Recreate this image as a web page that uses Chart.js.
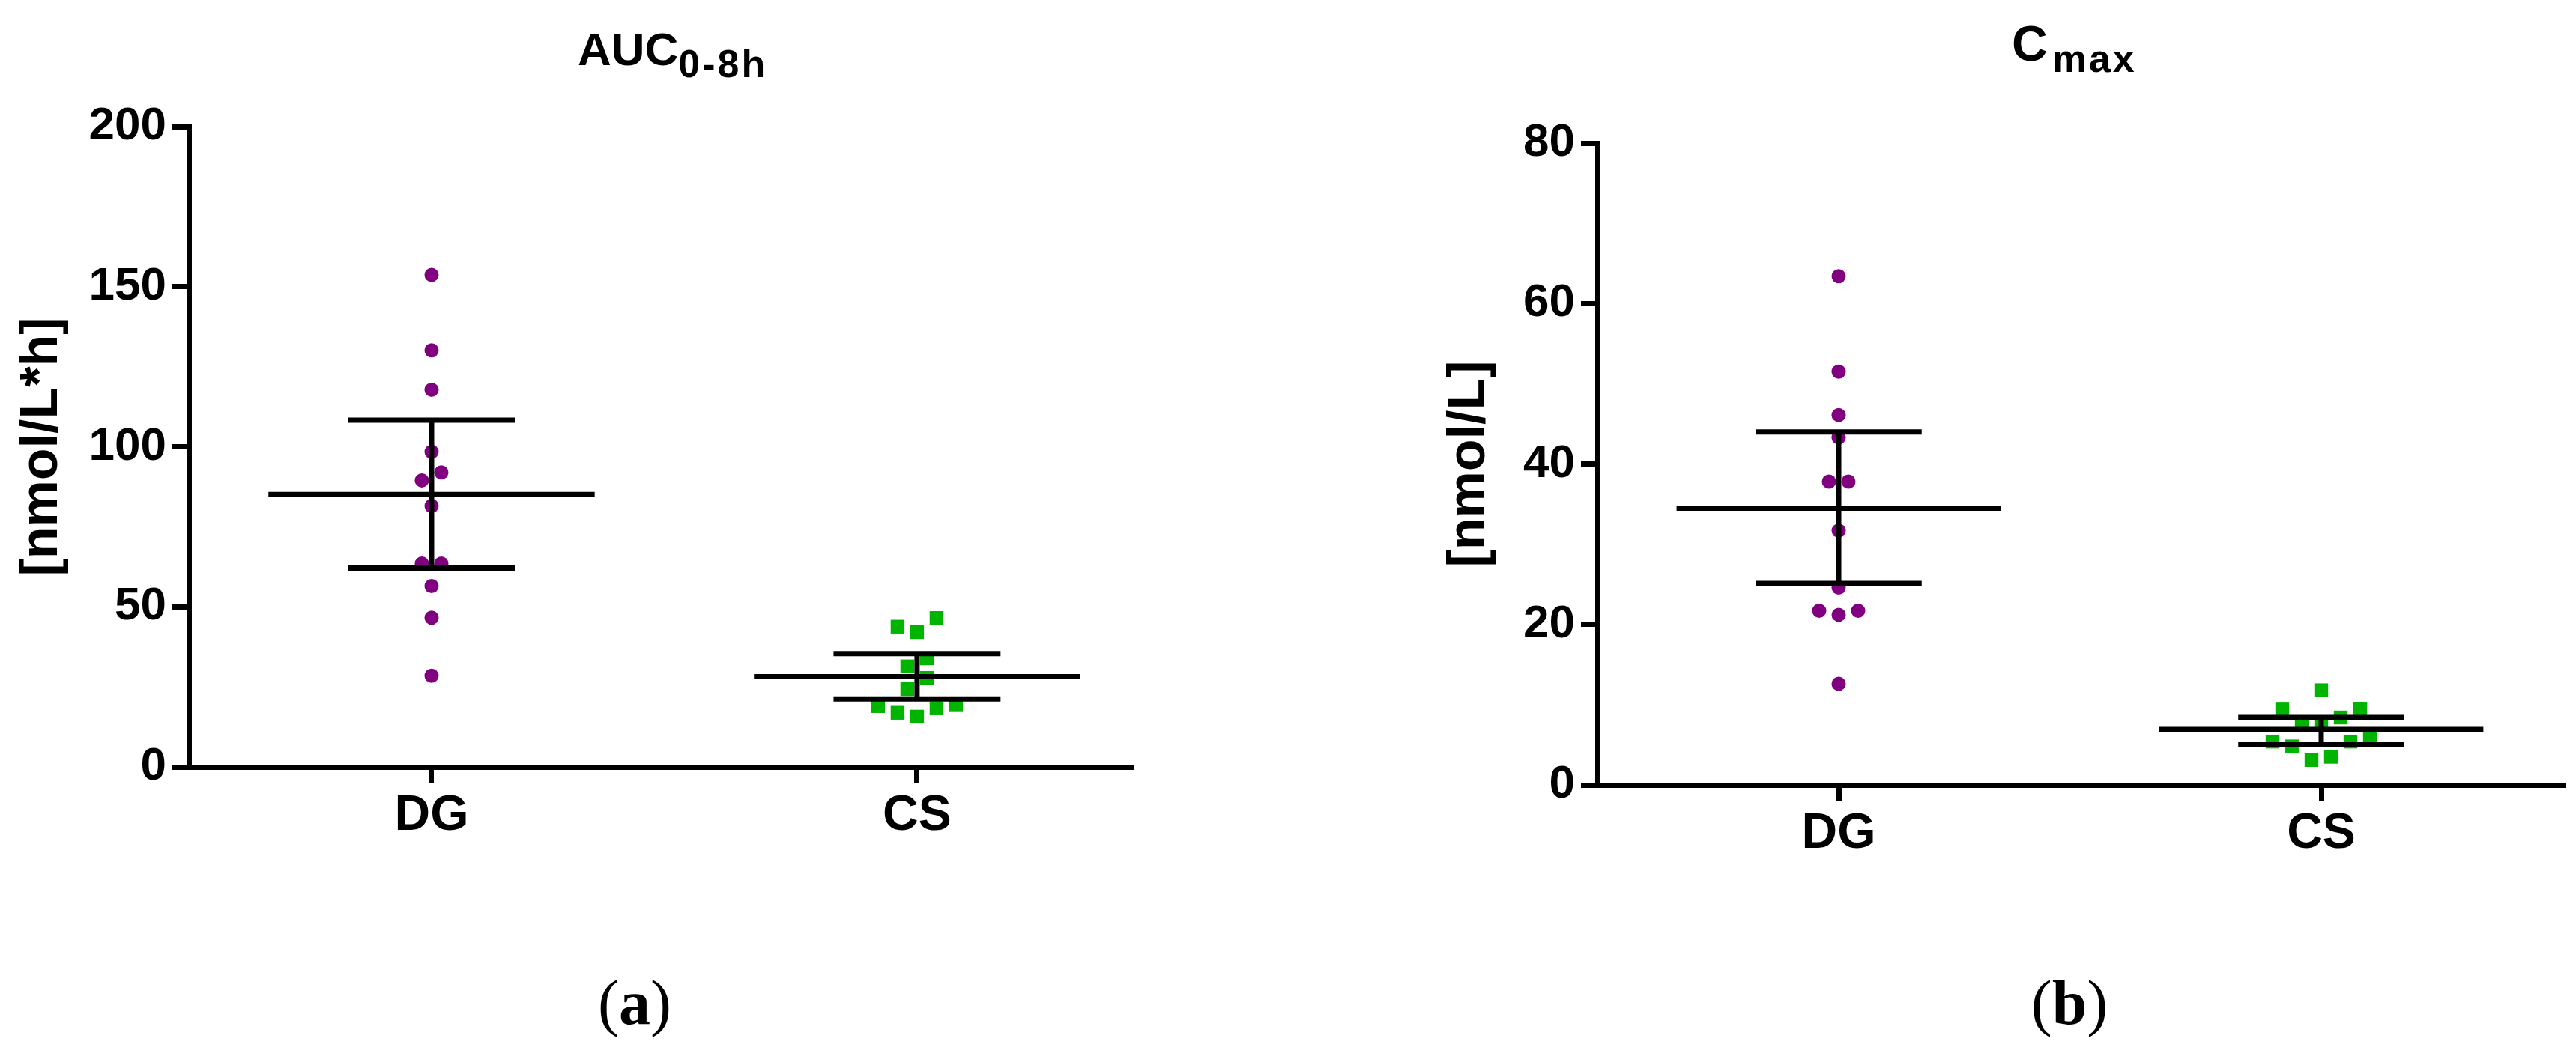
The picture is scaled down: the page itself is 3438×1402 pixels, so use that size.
<!DOCTYPE html>
<html>
<head>
<meta charset="utf-8">
<script src="https://cdn.jsdelivr.net/npm/chart.js@4/dist/chart.umd.min.js"></script>
<style>
  body { margin: 0; background: #fff; width: 3438px; height: 1402px; position: relative; overflow: hidden; }
  canvas { position: absolute; top: 0; }
  .title { position: absolute; font-family: 'Liberation Sans', Arial, sans-serif; font-weight: bold; font-size: 62px; line-height: 1; white-space: nowrap; color: #000; }
  .title sub { font-size: 52px; letter-spacing: 3px; vertical-align: -16px; line-height: 1; }
  .cap { position: absolute; width: 300px; text-align: center; font-family: 'Liberation Serif', 'Times New Roman', serif; font-size: 84px; line-height: 1; color: #000; }
</style>
</head>
<body>
<canvas id="auc" width="1600" height="1200" style="left:0"></canvas>
<canvas id="cmax" width="1718" height="1200" style="left:1720px"></canvas>

<div class="title" style="left:771px;top:35px">AUC<sub>0-8h</sub></div>
<div class="title" style="left:2685px;top:25px;font-size:66px">C<sub style="margin-left:6px;letter-spacing:3px;vertical-align:-15px">max</sub></div>
<div class="cap" style="left:697px;top:1297px">(<b>a</b>)</div>
<div class="cap" style="left:2612px;top:1297px">(<b>b</b>)</div>

<script>
// groups
const categories = ['DG', 'CS'];

// AUC 0-8h [nmol/L*h], one value per subject
const aucDG = [153.7, 130.1, 117.8, 98.4, 92.0, 89.5, 81.5, 63.5, 63.5, 56.5, 46.6, 28.5];
const aucCS = [46.5, 43.8, 42.1, 33.9, 31.4, 27.8, 24.3, 19.3, 19.0, 18.3, 16.9, 15.7];
const aucMean = [85.1, 28.2];
const aucLow = [62.1, 21.2];
const aucHigh = [108.3, 35.4];
const aucTicks = [0, 50, 100, 150, 200];

// Cmax [nmol/L]
const cmaxDG = [63.4, 51.5, 46.1, 43.3, 37.8, 37.8, 31.7, 24.6, 21.7, 21.7, 21.2, 12.6];
const cmaxCS = [11.8, 9.5, 9.4, 8.4, 7.5, 7.5, 5.8, 5.4, 5.4, 4.8, 3.5, 3.1];
const cmaxMean = [34.5, 6.9];
const cmaxLow = [25.1, 5.0];
const cmaxHigh = [44.0, 8.4];
const cmaxTicks = [0, 20, 40, 60, 80];

const FONT = "'Liberation Sans', Arial, sans-serif";
const PURPLE = '#800080';
const GREEN = '#00b400';
const MEAN_HALF = 0.336;   // half width of mean line, in category units
const CAP_HALF = 0.172;    // half width of error caps
const STEP = 26;           // px between dots placed side by side
const ROW_GAP = 29.5;      // dots closer than this (px) share a row

Chart.defaults.font.family = FONT;
Chart.defaults.color = '#000';

// spread dots of similar value side by side, like a scatter dot plot
function placeRow(row) {
  const byValue = row.slice().sort((a, b) => a.y - b.y);
  const n = byValue.length;
  byValue.forEach((p, k) => {
    const slot = (n - 1) / 2 - Math.floor(k / 2);
    p.x += (k % 2 === 0 ? slot : -slot) * STEP;
  });
}

const swarm = {
  id: 'swarm',
  afterDatasetUpdate(chart, args) {
    const ds = chart.data.datasets[args.index];
    if (!ds.swarm) return;
    const pts = args.meta.data.slice().sort((a, b) => b.y - a.y);
    let row = [];
    pts.forEach(p => {
      if (row.length && row[0].y - p.y >= ROW_GAP) {
        placeRow(row);
        row = [];
      }
      row.push(p);
    });
    if (row.length) placeRow(row);
  }
};

function seg(x1, y1, x2, y2) {
  return {
    type: 'line',
    data: [{x: x1, y: y1}, {x: x2, y: y2}],
    borderColor: '#000',
    borderWidth: 7,
    pointRadius: 0,
    order: 0
  };
}

function errorBars(mean, low, high) {
  const sets = [];
  mean.forEach((m, i) => {
    const c = i + 1;
    sets.push(seg(c - MEAN_HALF, m, c + MEAN_HALF, m));
    sets.push(seg(c - CAP_HALF, high[i], c + CAP_HALF, high[i]));
    sets.push(seg(c - CAP_HALF, low[i], c + CAP_HALF, low[i]));
    sets.push(seg(c, low[i], c, high[i]));
  });
  return sets;
}

function dots(values, cat, color, style, radius) {
  return {
    type: 'scatter',
    swarm: true,
    data: values.map(v => ({x: cat, y: v})),
    backgroundColor: color,
    borderWidth: 0,
    pointStyle: style,
    pointRadius: radius,
    order: 1
  };
}

function makeChart(id, p) {
  return new Chart(document.getElementById(id), {
    type: 'scatter',
    data: {
      datasets: [
        dots(p.dg, 1, PURPLE, 'circle', 9.5),
        dots(p.cs, 2, GREEN, 'rect', 13)
      ].concat(errorBars(p.mean, p.low, p.high))
    },
    plugins: [swarm],
    options: {
      responsive: false,
      animation: false,
      events: [],
      layout: { padding: { left: 0, top: p.top, right: p.right, bottom: 0 } },
      plugins: { legend: { display: false }, tooltip: { enabled: false } },
      scales: {
        x: {
          type: 'linear',
          min: 0.5,
          max: p.xMax,
          afterBuildTicks: s => { s.ticks = categories.map((c, i) => ({value: i + 1})); },
          afterFit: s => { s.height = p.xHeight; },
          ticks: {
            callback: v => categories[v - 1],
            font: { size: 66, weight: 'bold' },
            color: '#000',
            padding: 4,
            maxRotation: 0
          },
          grid: { drawOnChartArea: false, color: '#000', lineWidth: 7, tickLength: 22 },
          border: { display: true, color: '#000', width: 7 }
        },
        y: {
          min: 0,
          max: p.ticks[p.ticks.length - 1],
          afterBuildTicks: s => { s.ticks = p.ticks.map(v => ({value: v})); },
          afterFit: s => { s.width = p.yWidth; },
          ticks: {
            font: { size: 62, weight: 'bold' },
            color: '#000',
            padding: 8
          },
          grid: { drawOnChartArea: false, color: '#000', lineWidth: 7, tickLength: 22 },
          border: { display: true, color: '#000', width: 7 },
          title: {
            display: true,
            text: p.label,
            font: { size: 70, weight: 'bold' },
            color: '#000',
            padding: { top: p.labelPad, bottom: 0 }
          }
        }
      }
    }
  });
}

makeChart('auc', {
  dg: aucDG, cs: aucCS, mean: aucMean, low: aucLow, high: aucHigh,
  ticks: aucTicks, label: '[nmol/L*h]',
  top: 169, right: 91, xHeight: 176, yWidth: 252, xMax: 2.44, labelPad: 15
});

makeChart('cmax', {
  dg: cmaxDG, cs: cmaxCS, mean: cmaxMean, low: cmaxLow, high: cmaxHigh,
  ticks: cmaxTicks, label: '[nmol/L]',
  top: 191, right: 18, xHeight: 152, yWidth: 412, xMax: 2.5, labelPad: 200
});
</script>
</body>
</html>
